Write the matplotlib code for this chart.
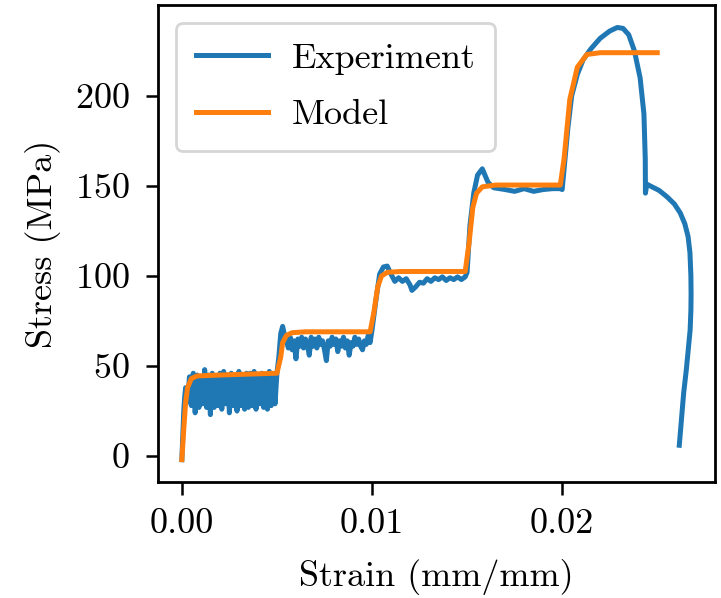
import numpy as np
import matplotlib
matplotlib.use("Agg")
import matplotlib.pyplot as plt

plt.rcParams['font.family'] = 'serif'
plt.rcParams['font.serif'] = ['cmr10']
plt.rcParams['mathtext.fontset'] = 'cm'
plt.rcParams['axes.unicode_minus'] = False
plt.rcParams['axes.formatter.use_mathtext'] = True

# strain values are written in units of 1e-3 mm/mm
# experiment: initial loading + first (noisy) hold
exp1_strain = [0.0, 0.05, 0.1, 0.15,
               0.2, 0.3, 0.4, 0.5, 0.6, 0.7, 0.8, 0.9, 1.0, 1.1, 1.2, 1.3, 1.4,
               1.5, 1.6, 1.7, 1.8, 1.9, 2.0, 2.1, 2.2, 2.3, 2.4, 2.5, 2.6, 2.7,
               2.8, 2.9, 3.0, 3.1, 3.2, 3.3, 3.4, 3.5, 3.6, 3.7, 3.8, 3.9, 4.0,
               4.1, 4.2, 4.3, 4.4, 4.5, 4.6, 4.7, 4.8, 4.9, 5.0]
exp1_stress = [-2, 12, 25, 33,
               38, 30, 44, 28, 46, 24, 45, 27, 44, 29, 48, 27, 45,
               23, 46, 27, 44, 28, 46, 26, 47, 29, 45, 24, 46, 28,
               45, 25, 47, 28, 44, 26, 46, 27, 46, 28, 47, 26, 45,
               29, 46, 27, 44, 26, 47, 28, 45, 29, 46]

# second step and noisy hold
exp2_strain = [5.1, 5.2, 5.3, 5.4,
               5.5, 5.6, 5.7, 5.8, 5.9, 6.0, 6.1, 6.2, 6.3, 6.4, 6.5, 6.6,
               6.7, 6.8, 6.9, 7.0, 7.1, 7.2, 7.3, 7.4, 7.5, 7.6, 7.7, 7.8,
               7.9, 8.0, 8.1, 8.2, 8.3, 8.4, 8.5, 8.6, 8.7, 8.8, 8.9, 9.0,
               9.1, 9.2, 9.3, 9.4, 9.5, 9.6, 9.7, 9.8, 9.9]
exp2_stress = [55, 68, 72, 67,
               64, 60, 66, 59, 64, 54, 65, 61, 66, 60, 65, 62,
               56, 66, 61, 65, 60, 66, 62, 64, 59, 53, 64, 61,
               66, 62, 65, 58, 64, 61, 66, 60, 64, 56, 63, 61,
               66, 62, 65, 61, 59, 64, 62, 67, 63]

# third step
exp3_strain = [10.0, 10.2, 10.4, 10.6, 10.8, 11.0, 11.2, 11.4, 11.6, 11.8,
               12.0, 12.1, 12.3, 12.5, 12.7, 12.9, 13.1, 13.3, 13.5, 13.7,
               13.9, 14.1, 14.3, 14.5, 14.7, 14.9]
exp3_stress = [70, 86, 101, 105, 105.5, 101, 97, 99, 97, 98.5,
               95, 92, 94, 96.5, 96, 98.5, 97, 99, 98, 99.5,
               97.5, 99, 98, 99.5, 98, 99.5]

# fourth step
exp4_strain = [15.0, 15.15, 15.35, 15.55, 15.8, 16.1, 16.4, 17.0, 17.5, 18.0,
               18.5, 19.0, 19.5, 19.9]
exp4_stress = [102, 128, 146, 156, 159.5, 152, 149, 148, 147, 148.5,
               147, 148, 148.5, 148.5]

# final loading to failure
exp5_strain = [20.0, 20.15, 20.3, 20.5, 20.8, 21.1, 21.5, 22.0, 22.5, 22.9,
               23.2, 23.5, 23.8, 24.1, 24.3, 24.37, 24.38, 24.45, 24.63,
               25.1, 25.51, 25.9, 26.21, 26.45, 26.62, 26.72, 26.77, 26.78,
               26.77, 26.73, 26.65, 26.53, 26.39, 26.16]
exp5_stress = [148, 165, 182, 200, 212, 220, 226, 232, 236, 238,
               237.5, 234, 225, 210, 190, 165, 146, 151, 150,
               147.5, 144, 140, 135, 129, 122, 113, 100, 90,
               81, 70, 61, 48, 35, 6]

model_strain = [0.0, 0.1, 0.2, 0.3, 0.5, 0.8, 2.0, 5.0,
                5.2, 5.3, 5.5, 5.8, 6.5, 9.9,
                10.1, 10.3, 10.5, 10.8, 11.5, 14.9,
                15.1, 15.3, 15.5, 15.8, 16.5, 19.9,
                20.1, 20.4, 20.8, 21.3, 22.0, 25.0]
model_stress = [-2, 15, 30, 38, 43, 44.5, 45, 46,
                55, 63, 67, 68.5, 69, 69,
                80, 94, 100, 102, 102.5, 102.5,
                118, 138, 146, 149.5, 150.5, 150.5,
                165, 198, 216, 223, 224, 224]

exp_strain = np.array(exp1_strain + exp2_strain + exp3_strain + exp4_strain + exp5_strain) / 1000
exp_stress = np.array(exp1_stress + exp2_stress + exp3_stress + exp4_stress + exp5_stress)

fig = plt.figure(figsize=(7.21, 5.98), dpi=100)
ax = fig.add_axes([0.219, 0.194, 0.773, 0.798])

ax.plot(exp_strain, exp_stress, color='#1f77b4', lw=3.6, label='Experiment')
ax.plot(np.array(model_strain) / 1000, model_stress, color='#ff7f0e', lw=3.6, label='Model')

ax.set_xlim(-0.00126, 0.02805)
ax.set_ylim(-14.4, 250.6)
ax.set_xticks([0.0, 0.01, 0.02])
ax.set_xticklabels(['0.00', '0.01', '0.02'])
ax.set_yticks([0, 50, 100, 150, 200])

ax.tick_params(labelsize=26, width=1.8, length=9)
ax.tick_params(axis='x', pad=10)
ax.tick_params(axis='y', pad=11)
ax.set_xlabel('Strain (mm/mm)', fontsize=26, labelpad=14)
ax.set_ylabel('Stress (MPa)', fontsize=26, labelpad=10)
for s in ax.spines.values():
    s.set_linewidth(2)

leg = ax.legend(loc='upper left', fontsize=26, labelspacing=0.67, borderpad=0.55,
                handlelength=2.0, handletextpad=0.65)
leg.get_frame().set_linewidth(2)

fig.savefig('out.png', dpi=100)
